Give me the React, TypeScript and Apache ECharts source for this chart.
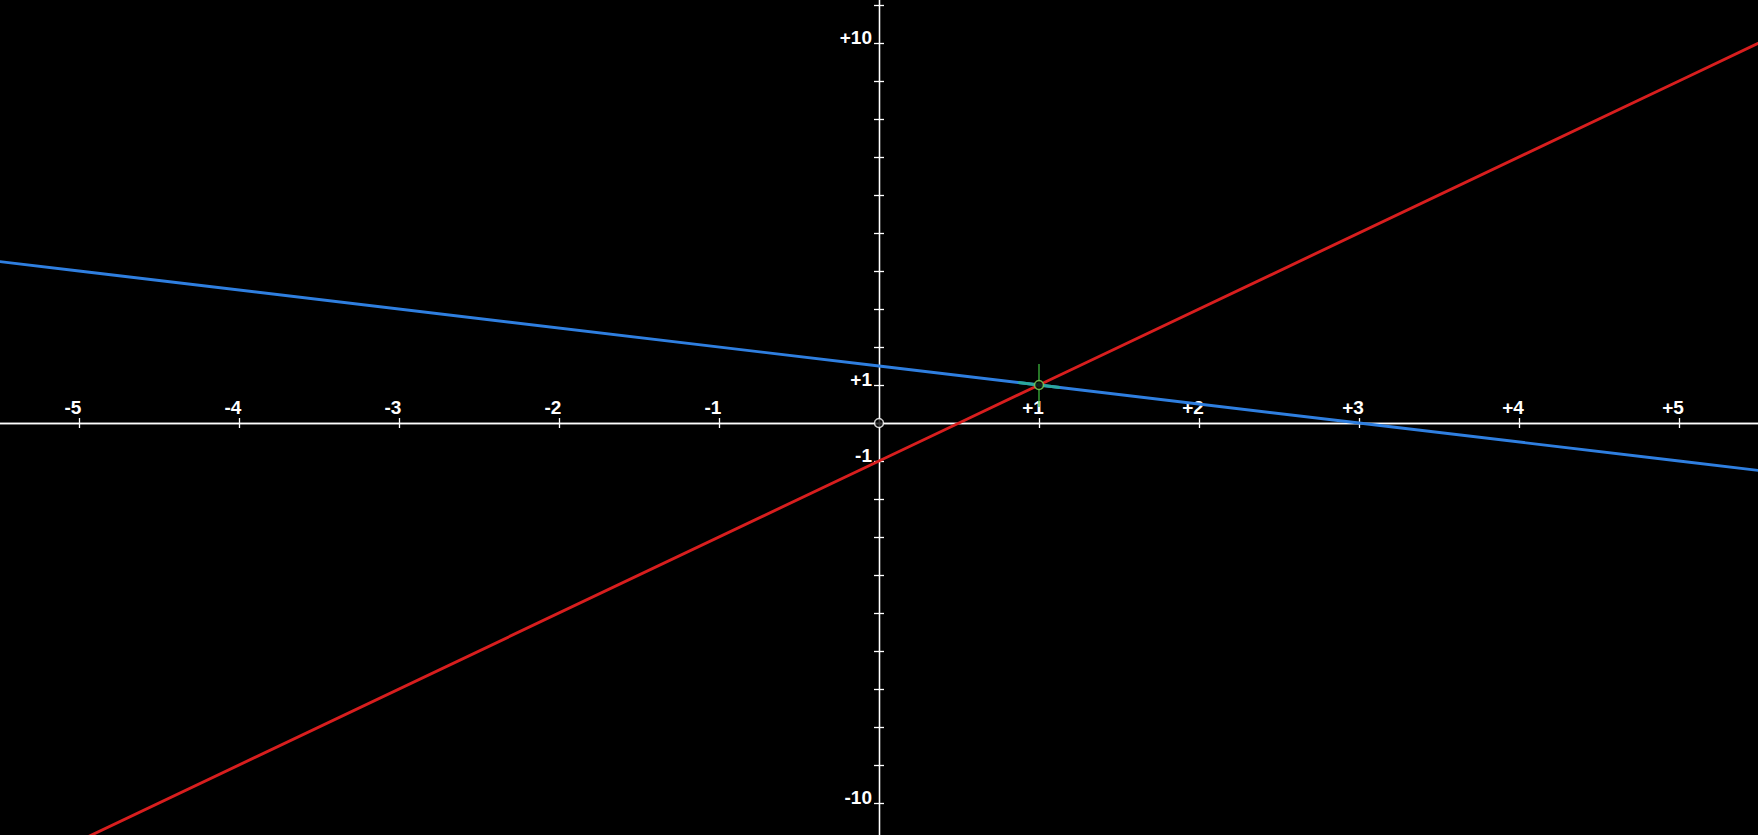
import React, { useEffect, useRef } from "react";
import * as echarts from "echarts";

// Axis setup
const xRange = [-6, 6];
const yRange = [-11, 12];
const xLabelValues = [-5, -4, -3, -2, -1, 1, 2, 3, 4, 5];
const yLabelValues = [-10, -1, 1, 10];

// Lines
const redLine = [[-6, -13], [-5, -11], [0, -1], [0.5, 0], [1, 1], [5, 9], [6, 11]];
const blueLine = [[-6, 4.5], [-5, 4], [0, 1.5], [1, 1], [3, 0], [5, -1], [6, -1.5]];
const tealSegment = [[0.87, 1.065], [1.13, 0.935]];
const greenCross = [[1, 0.42], [1, 1.55]];
const intersection = [[1, 1]];
const origin = [[0, 0]];

const fmtSigned = (v: number) => (v > 0 ? "+" + v : String(v));

// Layout (pixels)
const W = 1758;
const H = 835;
const GRID = { left: -81, right: -81, top: -33, bottom: -6 };
const ORIGIN_PX = { x: 879, y: 423 };

export default function App() {
  const ref = useRef<HTMLDivElement>(null);
  useEffect(() => {
    if (!ref.current) return;
    const chart = echarts.init(ref.current, null, { renderer: "svg" });
    const labelFont = {
      color: "#ffffff",
      fontWeight: "bold" as const,
      fontSize: 19,
      fontFamily: "Liberation Sans, Arial, sans-serif",
    };
    const lineStyle = { color: "#ffffff", width: 1.3 };
    const gridBottomPx = H - GRID.bottom;
    const gridTopPx = GRID.top;
    const gridLeftPx = GRID.left;
    const gridRightPx = W - GRID.right;
    const baseX = {
      type: "value" as const,
      min: xRange[0],
      max: xRange[1],
      interval: 1,
      splitLine: { show: false },
      axisLine: { onZero: false, lineStyle },
      axisTick: { show: true, length: 5, lineStyle },
    };
    const baseY = {
      type: "value" as const,
      min: yRange[0],
      max: yRange[1],
      interval: 1,
      splitLine: { show: false },
      axisLine: { onZero: false, lineStyle },
      axisTick: { show: true, length: 5, lineStyle },
    };
    chart.setOption({
      animation: false,
      backgroundColor: "#000000",
      grid: {
        ...GRID,
        containLabel: false,
        outerBoundsMode: "none",
      },
      xAxis: [
        {
          ...baseX,
          position: "bottom",
          offset: ORIGIN_PX.y - gridBottomPx,
          axisLabel: {
            show: true,
            inside: true,
            margin: 6,
            padding: [0, 12, 0, 0],
            ...labelFont,
            formatter: (v: number) => (xLabelValues.includes(v) ? fmtSigned(v) : ""),
          },
        },
        {
          ...baseX,
          position: "top",
          offset: gridTopPx - ORIGIN_PX.y,
          axisLabel: { show: false },
        },
      ],
      yAxis: [
        {
          ...baseY,
          position: "left",
          offset: gridLeftPx - ORIGIN_PX.x,
          axisLabel: {
            show: true,
            margin: 7,
            verticalAlign: "bottom",
            lineHeight: 12,
            ...labelFont,
            formatter: (v: number) => (yLabelValues.includes(v) ? fmtSigned(v) : ""),
          },
        },
        {
          ...baseY,
          position: "right",
          offset: ORIGIN_PX.x - gridRightPx,
          axisLabel: { show: false },
        },
      ],
      series: [
        {
          type: "line",
          data: redLine,
          symbol: "none",
          lineStyle: { color: "#d81e1e", width: 2.9 },
          z: 3,
        },
        {
          type: "line",
          data: blueLine,
          symbol: "none",
          lineStyle: { color: "#2f7fe0", width: 2.9 },
          z: 3,
        },
        {
          type: "line",
          data: tealSegment,
          symbol: "none",
          lineStyle: { color: "#2aa79c", width: 2.9 },
          z: 4,
        },
        {
          type: "line",
          data: greenCross,
          symbol: "none",
          lineStyle: { color: "#3cb43c", width: 1.3 },
          z: 5,
        },
        {
          type: "scatter",
          data: intersection,
          symbol: "circle",
          symbolSize: 9,
          itemStyle: { color: "#000000", borderColor: "#7fd65a", borderWidth: 1.5 },
          z: 6,
        },
        {
          type: "scatter",
          data: origin,
          symbol: "circle",
          symbolSize: 9,
          itemStyle: { color: "#000000", borderColor: "#ffffff", borderWidth: 1.5 },
          z: 6,
        },
      ],
    });
    return () => chart.dispose();
  }, []);
  return (
    <div
      ref={ref}
      style={{ position: "fixed", left: 0, top: 0, width: W, height: H, background: "#000" }}
    />
  );
}
